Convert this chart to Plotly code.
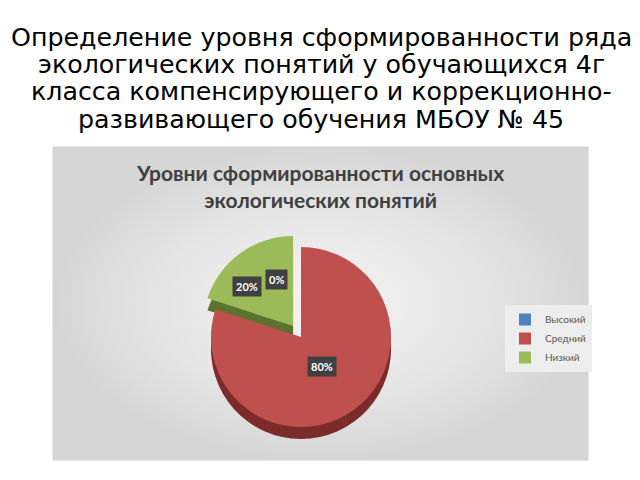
import math
import plotly.graph_objects as go

# данные диаграммы
levels = ["Высокий", "Средний", "Низкий"]
shares = [0, 80, 20]
colors = ["#4f81bd", "#c0504d", "#9bbb59"]
side_colors = ["#2c4d75", "#7b2c2a", "#5c7330"]
pulls = [0, 0, 0.15]

slide_lines = ["Определение уровня сформированности ряда",
               "экологических понятий у обучающихся 4г",
               "класса компенсирующего и коррекционно-",
               "развивающего обучения МБОУ № 45"]
chart_title = "<b>Уровни сформированности основных<br>экологических понятий</b>"

W, H = 640, 480
OFF = 8                  # отступ body на странице
cx, cy = 301, 337        # центр круга, px
R = 90                   # видимый радиус, px
depth = 12               # "толщина" диска, px
half = R * (1 + max(pulls))
panel = (53, 147, 588, 460)


def px(x):
    return (x - OFF) / W


def py(y):
    return (H - (y - OFF)) / H


def dom(x, y):
    return dict(x=[px(x - half), px(x + half)], y=[py(y + half), py(y - half)])


fig = go.Figure()

# фон области диаграммы с градиентом
x0, y0, x1, y1 = panel
fig.add_trace(go.Scatter(
    x=[x0, x1, x1, x0, x0], y=[y0, y0, y1, y1, y0], mode="lines", fill="toself",
    line=dict(color="#d0d0d0", width=1),
    fillgradient=dict(type="radial",
                      colorscale=[[0, "#f4f4f4"], [0.6, "#e5e5e5"], [1, "#d6d6d6"]]),
    hoverinfo="skip", showlegend=False))

# нижняя (тёмная) копия - боковая стенка
fig.add_trace(go.Pie(
    labels=levels, values=shares, sort=False, direction="clockwise", rotation=0,
    pull=pulls, marker=dict(colors=side_colors, line=dict(width=0)),
    textinfo="none", hoverinfo="skip", showlegend=False, domain=dom(cx, cy + depth)))

# верхняя грань
fig.add_trace(go.Pie(
    labels=levels, values=shares, sort=False, direction="clockwise", rotation=0,
    pull=pulls, marker=dict(colors=colors, line=dict(width=0)),
    textinfo="none", domain=dom(cx, cy)))

# подписи процентов
total = sum(shares)
cum = 0
for lab, v, p in zip(levels, shares, pulls):
    mid = (cum + v / 2) / total * 2 * math.pi
    cum += v
    if v == 0:
        rr, dx, dy = R * 0.64, -25, 0
    elif p:
        rr, dx, dy = R * (0.4 + 2.7 * p), -11, 8
    else:
        rr, dx, dy = R * 0.4, 0, 0
    lx = cx + rr * math.sin(mid) + dx
    ly = cy - rr * math.cos(mid) + dy
    fig.add_annotation(x=px(lx), y=py(ly), xref="paper", yref="paper",
                       xanchor="center", yanchor="middle",
                       text=f"<b>{round(v / total * 100)}%</b>", showarrow=False,
                       bgcolor="#404040", font=dict(color="white", size=11, family="Lato"),
                       borderpad=3)

for i, line in enumerate(slide_lines):
    fig.add_annotation(x=px(321), y=py(37 + 27.4 * i), xref="paper", yref="paper",
                       text=line, showarrow=False, yanchor="middle",
                       font=dict(family="DejaVu Sans", size=25.3, color="black"))

fig.add_annotation(x=px(320), y=py(186), xref="paper", yref="paper", text=chart_title,
                   showarrow=False, yanchor="middle",
                   font=dict(family="Lato", size=21, color="#404040"))

fig.update_layout(
    width=W, height=H, margin=dict(l=0, r=0, t=0, b=0),
    paper_bgcolor="white", plot_bgcolor="white",
    xaxis=dict(range=[OFF, W + OFF], visible=False, fixedrange=True),
    yaxis=dict(range=[H + OFF, OFF], visible=False, fixedrange=True),
    legend=dict(x=px(505), y=py(305), xanchor="left", yanchor="top",
                bgcolor="#ededed", font=dict(family="Lato", size=10, color="#595959"),
                itemwidth=30),
)

fig.write_html("out.html")
